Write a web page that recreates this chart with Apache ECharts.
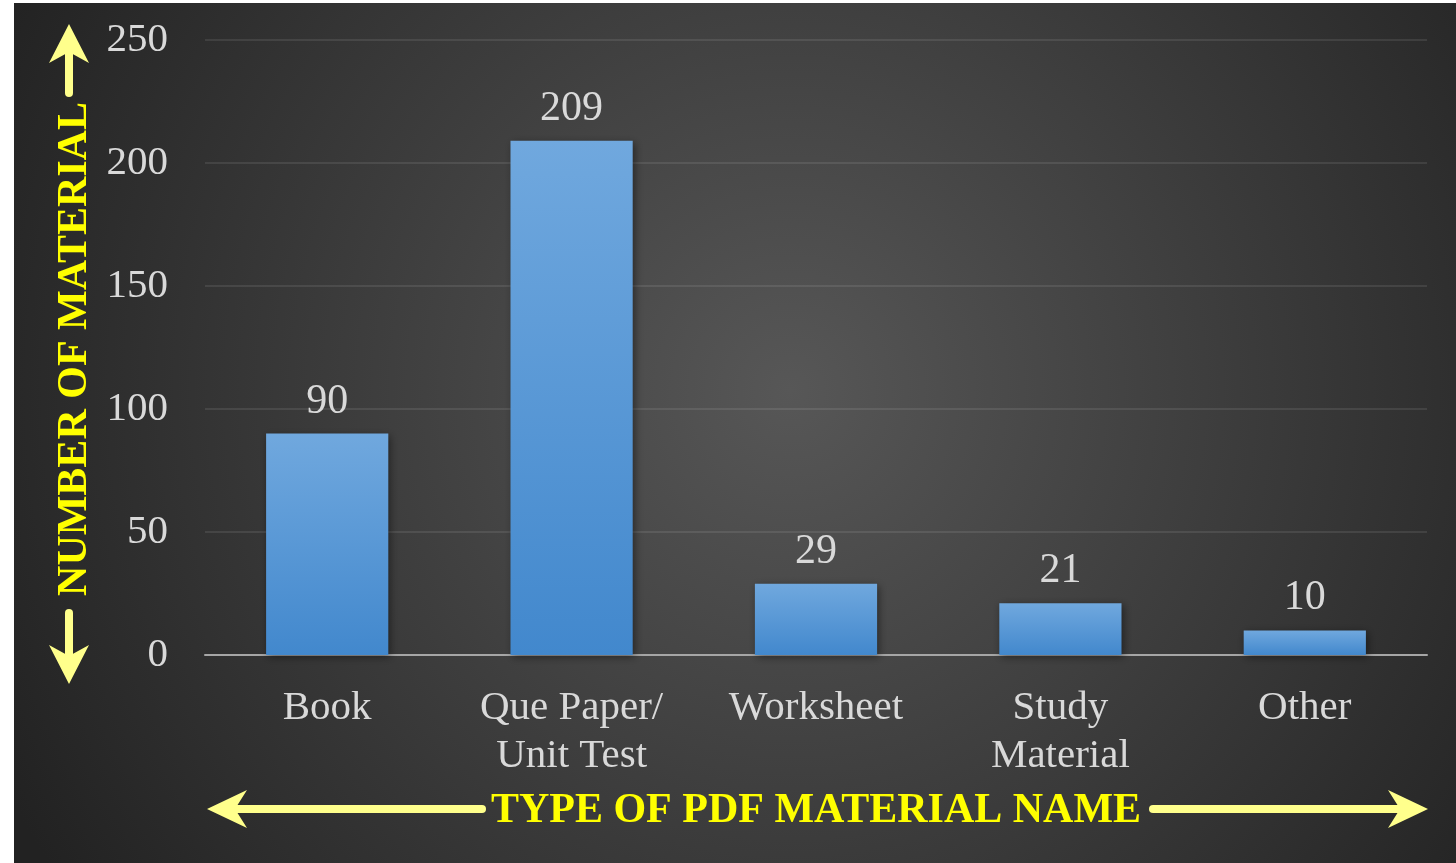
<!DOCTYPE html>
<html>
<head>
<meta charset="utf-8">
<script src="https://cdn.jsdelivr.net/npm/echarts@6/dist/echarts.min.js"></script>
<style>
html,body{margin:0;padding:0;background:#fff;}
#chart{width:1456px;height:863px;}
</style>
</head>
<body>
<div id="chart"></div>
<script>
const categories = ['Book', 'Que Paper/\nUnit Test', 'Worksheet', 'Study\nMaterial', 'Other'];
const values = [90, 209, 29, 21, 10];
const yMin = 0, yMax = 250, yStep = 50;
const xTitle = 'TYPE OF PDF MATERIAL NAME';
const yTitle = 'NUMBER OF MATERIAL';

const serif = '"Liberation Serif", "Times New Roman", serif';
const arrowColor = '#ffff8c';

function hArrow(x1, x2, y, dir) {
  const tip = dir < 0 ? x1 : x2;
  const s = dir < 0 ? 1 : -1;
  return [
    { type: 'line', z: 50, shape: { x1: dir < 0 ? x1 + 20 : x1, y1: y, x2: dir < 0 ? x2 : x2 - 20, y2: y },
      style: { stroke: arrowColor, lineWidth: 8, lineCap: 'round' } },
    { type: 'polygon', z: 51, shape: { points: [[tip, y], [tip + s * 40, y - 19], [tip + s * 28, y], [tip + s * 40, y + 19]] },
      style: { fill: arrowColor } }
  ];
}
function vArrow(x, y1, y2, dir) {
  const tip = dir < 0 ? y1 : y2;
  const s = dir < 0 ? 1 : -1;
  return [
    { type: 'line', z: 50, shape: { x1: x, y1: dir < 0 ? y1 + 20 : y1, x2: x, y2: dir < 0 ? y2 : y2 - 20 },
      style: { stroke: arrowColor, lineWidth: 8, lineCap: 'round' } },
    { type: 'polygon', z: 51, shape: { points: [[x, tip], [x - 20, tip + s * 39], [x, tip + s * 28], [x + 20, tip + s * 39]] },
      style: { fill: arrowColor } }
  ];
}

const chart = echarts.init(document.getElementById('chart'), null, { renderer: 'canvas' });
chart.setOption({
  backgroundColor: '#ffffff',
  animation: false,
  grid: { left: 205, right: 29, top: 40, bottom: 208, containLabel: false },
  xAxis: {
    type: 'category',
    data: categories,
    axisLine: { show: true, lineStyle: { color: '#a6a6a6', width: 2 } },
    axisTick: { show: false },
    axisLabel: { color: '#d9d9d9', fontFamily: serif, fontSize: 41, lineHeight: 48, margin: 29, interval: 0 },
    splitLine: { show: false }
  },
  yAxis: {
    type: 'value',
    min: yMin, max: yMax, interval: yStep,
    axisLine: { show: false },
    axisTick: { show: false },
    axisLabel: { color: '#d9d9d9', fontFamily: serif, fontSize: 41, margin: 37, padding: [5, 0, 0, 0] },
    splitLine: { show: true, lineStyle: { color: 'rgba(255,255,255,0.09)', width: 2 } }
  },
  series: [{
    type: 'bar',
    data: values,
    barWidth: '50%',
    itemStyle: {
      color: new echarts.graphic.LinearGradient(0, 0, 0, 1, [
        { offset: 0, color: '#70a8de' },
        { offset: 1, color: '#4288cd' }
      ]),
      shadowBlur: 8,
      shadowColor: 'rgba(0,0,0,0.45)',
      shadowOffsetX: 2,
      shadowOffsetY: 2
    },
    label: {
      show: true, position: 'top', distance: 11,
      color: '#d9d9d9', fontFamily: serif, fontSize: 42, lineHeight: 42
    }
  }],
  graphic: [
    { type: 'rect', z: -100, silent: true,
      shape: { x: 14, y: 3, width: 1442, height: 860 },
      style: { fill: { type: 'radial', x: 790, y: 390, r: 880, global: true,
        colorStops: [{ offset: 0, color: '#575757' }, { offset: 1, color: '#222222' }] } } },
    { type: 'text', z: 60, x: 816, y: 811,
      style: { text: xTitle, fill: '#ffff00', font: 'bold 42px ' + serif, textAlign: 'center', textVerticalAlign: 'middle' } },
    { type: 'text', z: 60, x: 75, y: 349, rotation: Math.PI / 2,
      style: { text: yTitle, fill: '#ffff00', font: 'bold 42px ' + serif, textAlign: 'center', textVerticalAlign: 'middle' } },
    ...hArrow(207, 482, 809, -1),
    ...hArrow(1153, 1428, 809, 1),
    ...vArrow(69, 24, 93, -1),
    ...vArrow(69, 613, 684, 1)
  ]
});
</script>
</body>
</html>
